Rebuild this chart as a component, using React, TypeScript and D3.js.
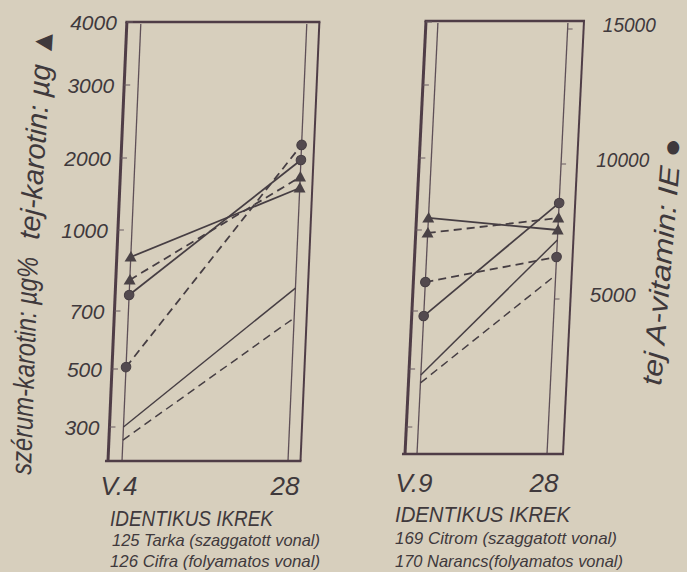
import * as d3 from "d3";

const datesA = ["V.4", "28"];
const datesB = ["V.9", "28"];

const leftTickValues = [300, 500, 700, 1000, 2000, 3000, 4000];
const leftTickLabels = ["300", "500", "700", "1000", "2000", "3000", "4000"];
const rightTickValues = [5000, 10000, 15000];
const rightTickLabels = ["5000", "10000", "15000"];

// 125 Tarka (szaggatott) / 126 Cifra (folyamatos)
const tarkaTejKarotin = [815, 1736];
const cifraTejKarotin = [900, 1583];
const tarkaAVitamin = [2330, 10560];
const cifraAVitamin = [5000, 10000];
const tarkaSzerum = [255, 676];
const cifraSzerum = [300, 785];

// 169 Citrom (szaggatott) / 170 Narancs (folyamatos)
const citromTejKarotin = [989, 1167];
const narancsTejKarotin = [1167, 1000];
const citromAVitamin = [5480, 6410];
const narancsAVitamin = [4220, 8410];
const citromSzerum = [452, 833];
const narancsSzerum = [479, 963];

const W = 687,
  H = 572;
const PAPER = "#d7cfbd";
const FRAME = "#4f3d47";
const INK = "#463e43";
const TEXT = "#3f393c";
const FONT = "'Liberation Sans', Arial, sans-serif";

// the left axis of the scan is drawn by hand and is not linear,
// so every labelled value gets its own row
const yLeft = d3
  .scaleLinear()
  .domain(leftTickValues)
  .range([427, 369, 311, 230, 158, 85, 22]);
const yRight = d3.scaleLinear().domain([5000, 15000]).range([295, 25]);

type Frame = {
  top: number;
  bottom: number;
  outerL: number;
  innerL: number;
  innerR: number;
  outerR: number;
  k: number; // the paper sits a bit crooked
};

const frameA: Frame = { top: 22, bottom: 461, outerL: 108, innerL: 122, innerR: 288, outerR: 300.5, k: 0.043 };
const frameB: Frame = { top: 21, bottom: 454, outerL: 405, innerL: 417, innerR: 547, outerR: 563, k: 0.0485 };

const lean = (f: Frame, x: number, y: number) => x + f.k * (f.bottom - y);

type Series = { values: number[]; axis: "left" | "right"; dashed: boolean; marker: "tri" | "dot" | null };

const seriesA: Series[] = [
  { values: tarkaSzerum, axis: "left", dashed: true, marker: null },
  { values: cifraSzerum, axis: "left", dashed: false, marker: null },
  { values: tarkaAVitamin, axis: "right", dashed: true, marker: "dot" },
  { values: cifraAVitamin, axis: "right", dashed: false, marker: "dot" },
  { values: tarkaTejKarotin, axis: "left", dashed: true, marker: "tri" },
  { values: cifraTejKarotin, axis: "left", dashed: false, marker: "tri" },
];

const seriesB: Series[] = [
  { values: citromSzerum, axis: "left", dashed: true, marker: null },
  { values: narancsSzerum, axis: "left", dashed: false, marker: null },
  { values: citromAVitamin, axis: "right", dashed: true, marker: "dot" },
  { values: narancsAVitamin, axis: "right", dashed: false, marker: "dot" },
  { values: citromTejKarotin, axis: "left", dashed: true, marker: "tri" },
  { values: narancsTejKarotin, axis: "left", dashed: false, marker: "tri" },
];

const triangle = d3.symbol(d3.symbolTriangle, 62)();

const Panel = ({ f, dates, series, rightTicks }: { f: Frame; dates: string[]; series: Series[]; rightTicks: boolean }) => {
  const x = d3.scalePoint<string>().domain(dates).range([f.innerL, f.innerR]);
  const skew = (-Math.atan(f.k) * 180) / Math.PI;

  const lines = series.map((s, i) => {
    const y = s.axis === "left" ? yLeft : yRight;
    const path = d3
      .line<number>()
      .x((_, j) => x(dates[j]) as number)
      .y((v) => y(v))(s.values);
    return (
      <path
        key={i}
        d={path || ""}
        fill="none"
        stroke={INK}
        strokeWidth={s.marker ? 1.8 : 1.5}
        strokeDasharray={s.dashed ? "8 5" : undefined}
      />
    );
  });

  const markers = series.map((s, i) => {
    if (!s.marker) return null;
    const y = s.axis === "left" ? yLeft : yRight;
    return s.values.map((v, j) =>
      s.marker === "dot" ? (
        <circle key={`${i}-${j}`} cx={x(dates[j])} cy={y(v)} r={4.8} fill="#534a4f" stroke={INK} strokeWidth={1} />
      ) : (
        <path key={`${i}-${j}`} d={triangle || ""} transform={`translate(${x(dates[j])},${y(v) + 1})`} fill="#4a4246" />
      )
    );
  });

  return (
    <g transform={`translate(0,${f.bottom}) skewX(${skew}) translate(0,${-f.bottom})`}>
      {/* inner date lines */}
      {dates.map((d) => (
        <line key={d} x1={x(d)} x2={x(d)} y1={f.top + 2} y2={f.bottom} stroke="#5e4f57" strokeWidth={1.3} />
      ))}
      {/* frame */}
      <line x1={f.outerL} x2={f.outerL} y1={f.top} y2={f.bottom} stroke={FRAME} strokeWidth={3} />
      <line x1={f.outerL - 1.5} x2={f.outerR + 1} y1={f.top} y2={f.top} stroke={FRAME} strokeWidth={2.4} />
      <line x1={f.outerL - 3} x2={f.outerR + 1} y1={f.bottom} y2={f.bottom} stroke={FRAME} strokeWidth={2.6} />
      <line x1={f.outerR} x2={f.outerR} y1={f.top} y2={f.bottom} stroke={FRAME} strokeWidth={2} />
      {leftTickValues.map((v) => (
        <line key={v} x1={f.outerL} x2={f.outerL + 6} y1={yLeft(v)} y2={yLeft(v)} stroke="#6b5c63" strokeWidth={1.2} />
      ))}
      {rightTicks &&
        rightTickValues.map((v) => (
          <line key={v} x1={f.innerR} x2={f.innerR + 5} y1={yRight(v) + 4} y2={yRight(v) + 4} stroke="#6b5c63" strokeWidth={1.2} />
        ))}
      {lines}
      {markers}
    </g>
  );
};

const Caption = ({ x, cy, size, width, children }: { x: number; cy: number; size: number; width: number; children: string }) => (
  <text
    x={x}
    y={cy + size * 0.35}
    fontSize={size}
    fontStyle="italic"
    fontFamily={FONT}
    fill={TEXT}
    textLength={width}
    lengthAdjust="spacingAndGlyphs"
  >
    {children}
  </text>
);

const App = () => {
  const xA = d3.scalePoint<string>().domain(datesA).range([frameA.innerL, frameA.innerR]);
  const xB = d3.scalePoint<string>().domain(datesB).range([frameB.innerL, frameB.innerR]);

  return (
    <svg width={W} height={H} style={{ position: "absolute", left: 0, top: 0 }}>
      <rect width={W} height={H} fill={PAPER} />

      <Panel f={frameA} dates={datesA} series={seriesA} rightTicks={false} />
      <Panel f={frameB} dates={datesB} series={seriesB} rightTicks={true} />

      {/* left axis labels */}
      {leftTickValues.map((v, i) => {
        const y = yLeft(v);
        return (
          <text
            key={v}
            x={lean(frameA, frameA.outerL, y) - 10}
            y={y + 7.5}
            textAnchor="end"
            fontSize={21}
            fontStyle="italic"
            fontFamily={FONT}
            fill={TEXT}
          >
            {leftTickLabels[i]}
          </text>
        );
      })}

      {/* right axis labels */}
      {rightTickValues.map((v, i) => {
        const y = yRight(v);
        return (
          <text
            key={v}
            x={lean(frameB, frameB.outerR, y) + 19}
            y={y + 7}
            fontSize={20}
            fontStyle="italic"
            fontFamily={FONT}
            fill={TEXT}
            textLength={i === 0 ? 46 : i === 1 ? 53 : 53}
            lengthAdjust="spacingAndGlyphs"
          >
            {rightTickLabels[i]}
          </text>
        );
      })}

      {/* axis titles */}
      <text
        transform="translate(31,475) rotate(-88.2)"
        fontSize={29}
        fontStyle="italic"
        fontFamily={FONT}
        fill={TEXT}
        textLength={218}
        lengthAdjust="spacingAndGlyphs"
      >
        szérum-karotin: µg%
      </text>
      <text
        transform="translate(39,240) rotate(-86.2)"
        fontSize={29}
        fontStyle="italic"
        fontFamily={FONT}
        fill={TEXT}
        textLength={212}
        lengthAdjust="spacingAndGlyphs"
      >
        tej-karotin: µg ▲
      </text>
      <text
        transform="translate(661,386) rotate(-85.2)"
        fontSize={28}
        fontStyle="italic"
        fontFamily={FONT}
        fill={TEXT}
        textLength={248}
        lengthAdjust="spacingAndGlyphs"
      >
        tej A-vitamin: IE ●
      </text>

      {/* dates */}
      {datesA.map((d) => (
        <text key={d} x={(xA(d) as number) - 3} y={486 + 9} textAnchor="middle" fontSize={26} fontStyle="italic" fontFamily={FONT} fill={TEXT}>
          {d}
        </text>
      ))}
      {datesB.map((d) => (
        <text key={d} x={(xB(d) as number) - 3} y={483 + 9} textAnchor="middle" fontSize={26} fontStyle="italic" fontFamily={FONT} fill={TEXT}>
          {d}
        </text>
      ))}

      {/* captions */}
      <Caption x={110} cy={518} size={22} width={163}>IDENTIKUS IKREK</Caption>
      <Caption x={112} cy={540} size={17} width={208}>125 Tarka (szaggatott vonal)</Caption>
      <Caption x={110} cy={561} size={17} width={210}>126 Cifra (folyamatos vonal)</Caption>
      <Caption x={395} cy={514} size={22} width={175}>IDENTIKUS IKREK</Caption>
      <Caption x={395} cy={538} size={17} width={222}>169 Citrom (szaggatott vonal)</Caption>
      <Caption x={395} cy={561} size={17} width={228}>170 Narancs(folyamatos vonal)</Caption>
    </svg>
  );
};

export default App;
